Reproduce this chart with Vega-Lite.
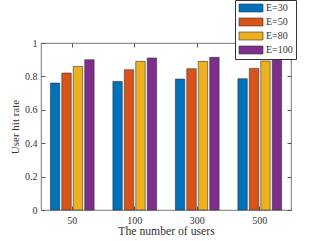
{
  "$schema": "https://vega.github.io/schema/vega-lite/v6.json",
  "width": 250,
  "height": 167,
  "autosize": {"type": "none"},
  "padding": {"left": 41, "top": 43, "right": 30, "bottom": 31},
  "background": "white",
  "config": {
    "view": {"stroke": "#555", "strokeWidth": 0.8},
    "font": "Liberation Serif",
    "legend": {"labelFont": "Liberation Serif"},
    "axis": {
      "labelFont": "Liberation Serif",
      "titleFont": "Liberation Serif",
      "labelFontSize": 10,
      "titleFontSize": 11,
      "titleFontWeight": "normal",
      "labelColor": "#333",
      "titleColor": "#333",
      "tickColor": "#555",
      "domain": false,
      "grid": false
    }
  },
  "data": {
    "values": [
      {"users": "50", "E": "E=30", "rate": 0.76},
      {"users": "50", "E": "E=50", "rate": 0.82},
      {"users": "50", "E": "E=80", "rate": 0.86},
      {"users": "50", "E": "E=100", "rate": 0.90},
      {"users": "100", "E": "E=30", "rate": 0.77},
      {"users": "100", "E": "E=50", "rate": 0.84},
      {"users": "100", "E": "E=80", "rate": 0.89},
      {"users": "100", "E": "E=100", "rate": 0.91},
      {"users": "300", "E": "E=30", "rate": 0.784},
      {"users": "300", "E": "E=50", "rate": 0.846},
      {"users": "300", "E": "E=80", "rate": 0.89},
      {"users": "300", "E": "E=100", "rate": 0.914},
      {"users": "500", "E": "E=30", "rate": 0.786},
      {"users": "500", "E": "E=50", "rate": 0.848},
      {"users": "500", "E": "E=80", "rate": 0.892},
      {"users": "500", "E": "E=100", "rate": 0.93}
    ]
  },
  "layer": [
    {
      "mark": {"type": "bar", "stroke": "#333", "strokeWidth": 0.6},
      "encoding": {
        "x": {
          "field": "users", "type": "nominal", "sort": ["50", "100", "300", "500"],
          "scale": {"paddingInner": 0.3, "paddingOuter": 0.15},
          "axis": {"orient": "bottom", "title": "The number of users", "titleFontSize": 11.7, "labelAngle": 0, "tickSize": -4, "labelPadding": 9, "titlePadding": 0}
        },
        "xOffset": {
          "field": "E", "type": "nominal", "sort": ["E=30", "E=50", "E=80", "E=100"],
          "scale": {"paddingInner": 0.18, "paddingOuter": 0}
        },
        "y": {
          "field": "rate", "type": "quantitative",
          "scale": {"domain": [0, 1], "nice": false},
          "axis": {"orient": "left", "title": "User hit rate", "values": [0, 0.2, 0.4, 0.6, 0.8, 1], "format": "~g", "tickSize": -4, "labelPadding": 8, "titlePadding": 4}
        },
        "color": {
          "field": "E", "type": "nominal", "sort": ["E=30", "E=50", "E=80", "E=100"],
          "scale": {"range": ["#0072BD", "#D95319", "#EDB120", "#7E2F8E"]},
          "legend": {
            "orient": "none", "legendX": 194, "legendY": -43, "title": null,
            "symbolType": "M-1,-1H5V1H-1Z", "symbolSize": 64,
            "symbolStrokeColor": "#333", "symbolStrokeWidth": 0.6,
            "labelFont": "Liberation Serif", "labelFontSize": 10, "labelColor": "#333",
            "labelOffset": 18, "rowPadding": 2, "padding": 3,
            "strokeColor": "#333", "fillColor": "white"
          }
        }
      }
    },
    {
      "mark": {"type": "tick", "opacity": 0},
      "encoding": {
        "x": {"field": "users", "type": "nominal", "sort": ["50", "100", "300", "500"],
          "axis": {"orient": "top", "title": null, "labels": false, "tickSize": -4}},
        "y": {"field": "rate", "type": "quantitative",
          "axis": {"orient": "right", "title": null, "labels": false, "values": [0, 0.2, 0.4, 0.6, 0.8, 1], "tickSize": -4}}
      }
    }
  ],
  "resolve": {"axis": {"x": "independent", "y": "independent"}}
}
